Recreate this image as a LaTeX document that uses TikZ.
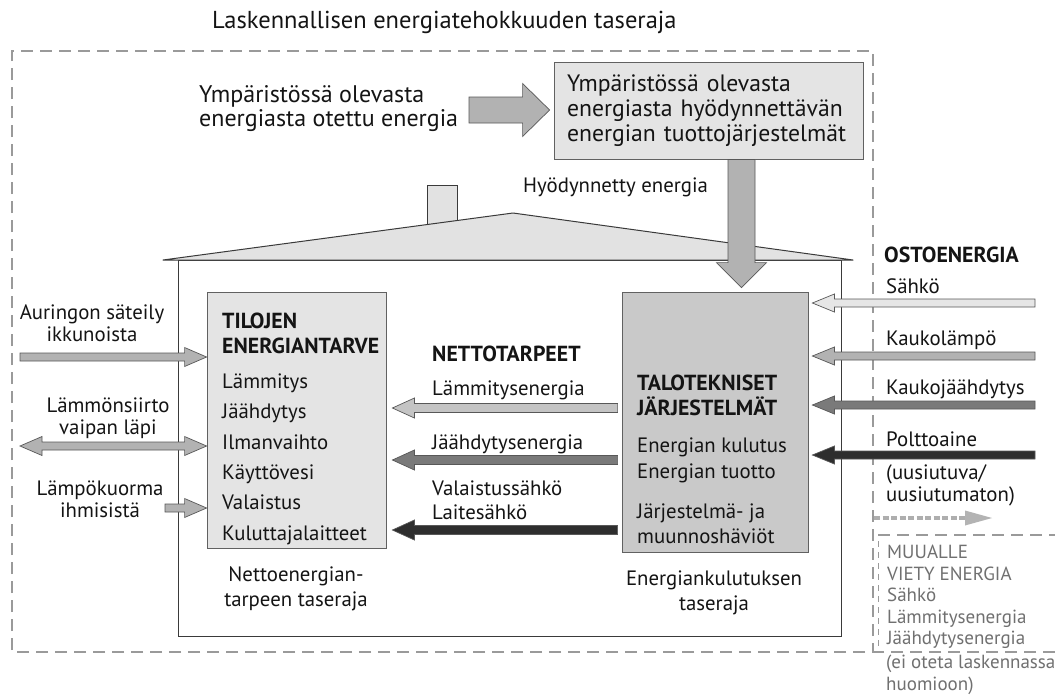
\documentclass[tikz,border=0pt]{standalone}
\usepackage{fontspec}
\setmainfont{PT Sans}
\usetikzlibrary{calc,arrows.meta}
\definecolor{boxlight}{HTML}{E4E4E4}
\definecolor{boxmid}{HTML}{C9C9C9}
\definecolor{rooffill}{HTML}{E2E2E2}
\definecolor{arA}{HTML}{E6E6E6}
\definecolor{arB}{HTML}{B2B2B2}
\definecolor{arC}{HTML}{C4C4C4}
\definecolor{arD}{HTML}{7A7A7A}
\definecolor{arE}{HTML}{2E2E2E}
\definecolor{boundc}{HTML}{9A9A9A}
\definecolor{graytext}{HTML}{707070}
\definecolor{linec}{HTML}{3A3A3A}
\definecolor{txt}{HTML}{141414}
\newcommand\fatarrow[6]{%
  \filldraw[arrowline, fill=#1] let \p1=(#2), \p2=(#3),
    \n1={veclen(\x2-\x1,\y2-\y1)}, \n2={(\x2-\x1)/\n1}, \n3={(\y2-\y1)/\n1} in
    ({\x1-\n3*#4},{\y1+\n2*#4}) --
    ({\x2-\n2*#6-\n3*#4},{\y2-\n3*#6+\n2*#4}) --
    ({\x2-\n2*#6-\n3*#5},{\y2-\n3*#6+\n2*#5}) --
    (\x2,\y2) --
    ({\x2-\n2*#6+\n3*#5},{\y2-\n3*#6-\n2*#5}) --
    ({\x2-\n2*#6+\n3*#4},{\y2-\n3*#6-\n2*#4}) --
    ({\x1+\n3*#4},{\y1-\n2*#4}) -- cycle;}
\newcommand\dfatarrow[6]{%
  \filldraw[arrowline, fill=#1] let \p1=(#2), \p2=(#3),
    \n1={veclen(\x2-\x1,\y2-\y1)}, \n2={(\x2-\x1)/\n1}, \n3={(\y2-\y1)/\n1} in
    (\x1,\y1) --
    ({\x1+\n2*#6-\n3*#5},{\y1+\n3*#6+\n2*#5}) --
    ({\x1+\n2*#6-\n3*#4},{\y1+\n3*#6+\n2*#4}) --
    ({\x2-\n2*#6-\n3*#4},{\y2-\n3*#6+\n2*#4}) --
    ({\x2-\n2*#6-\n3*#5},{\y2-\n3*#6+\n2*#5}) --
    (\x2,\y2) --
    ({\x2-\n2*#6+\n3*#5},{\y2-\n3*#6-\n2*#5}) --
    ({\x2-\n2*#6+\n3*#4},{\y2-\n3*#6-\n2*#4}) --
    ({\x1+\n2*#6+\n3*#4},{\y1+\n3*#6-\n2*#4}) --
    ({\x1+\n2*#6+\n3*#5},{\y1+\n3*#6-\n2*#5}) -- cycle;}
\newcommand\bft[1]{{\fontsize{21.8}{25}\bfseries #1}}
\begin{document}
\begin{tikzpicture}[x=1pt,y=-1pt,
  arrowline/.style={draw=linec!85, line width=0.7pt, line join=miter},
  boundline/.style={draw=boundc, line width=1.3pt, dash pattern=on 12pt off 7pt},
  fineline/.style={draw=boundc, line width=0.8pt, dash pattern=on 6pt off 5pt},
  lbl/.style={inner sep=0pt, text=txt, font=\fontsize{20.8}{22}\selectfont},
  boldlbl/.style={inner sep=0pt, text=txt, font=\fontsize{21.8}{24}\bfseries},
  biglbl/.style={inner sep=0pt, text=txt, font=\fontsize{24}{24}\selectfont},
  graylbl/.style={inner sep=0pt, text=graytext, font=\fontsize{19}{21.5}\selectfont},
  boxnode/.style={draw=linec!80, line width=0.8pt, inner sep=0pt}]
\useasboundingbox (0,0) rectangle (1055,697);
\fill[white] (0,0) rectangle (1055,697);

% balance boundaries
\draw[boundline] (1055,652) -- (12,652) -- (12,51) -- (873,51) -- (873,652);
\draw[boundline] (878,535) -- (1055,535);
\draw[fineline] (878,541) -- (878,650);

% title
\node[inner sep=0pt, text=txt, font=\fontsize{24.5}{26}\selectfont, anchor=west] (title) at (212,22) {Laskennallisen energiatehokkuuden taseraja};

% house
\draw[linec, line width=1pt, fill=white] (178,260) rectangle (841,636);
\draw[linec, line width=0.9pt, fill=rooffill] (427,185) rectangle (457,232);
\filldraw[draw=linec, line width=1pt, fill=rooffill, line join=round] (163,260) -- (513,213) -- (853,260) -- cycle;

% top part
\node[biglbl, align=left, anchor=west] (envtext) at (199,109) {Ympäristössä olevasta\\energiasta otettu energia};
\node[boxnode, fill=boxlight, minimum width=309pt, minimum height=97pt, align=left, text width=283pt,
      text=txt, font=\fontsize{23.7}{25}\selectfont] (envbox) at (708.5,110.5)
  {Ympäristössä olevasta\\energiasta hyödynnettävän\\energian tuottojärjestelmät};
\node[lbl, anchor=west] (hyod) at (523,187) {Hyödynnetty energia};

% inner boxes
\node[boxnode, fill=boxlight, minimum width=179pt, minimum height=256pt] (tilo) at (296.5,420) {};
\node[boxnode, fill=boxmid, minimum width=186pt, minimum height=260pt] (talo) at (715,422) {};

\node[lbl, anchor=north west, align=left, font=\fontsize{20.8}{25}\selectfont] (tilotext) at (222,312.5)
  {\bft{TILOJEN}\\\bft{ENERGIANTARVE}\\[10pt]Lämmitys\\[5.4pt]Jäähdytys\\[5.4pt]Ilmanvaihto\\[5.4pt]Käyttövesi\\[5.4pt]Valaistus\\[5.4pt]Kuluttajalaitteet};
\node[lbl, anchor=north west, align=left, font=\fontsize{20.8}{25.5}\selectfont] (talotext) at (637,374.5)
  {\bft{TALOTEKNISET}\\\bft{JÄRJESTELMÄT}\\[11.5pt]Energian kulutus\\Energian tuotto\\[14.5pt]Järjestelmä- ja\\muunnoshäviöt};

% net needs
\node[boldlbl, anchor=west] (netto) at (432,354) {NETTOTARPEET};
\node[lbl, anchor=west] (lamm) at (432,390) {Lämmitysenergia};
\node[lbl, anchor=west] (jaah) at (432,444) {Jäähdytysenergia};
\node[lbl, anchor=west, align=left, font=\fontsize{20.8}{24}\selectfont] (vala) at (432,500) {Valaistussähkö\\Laitesähkö};

% left labels
\node[lbl, align=center] (aur) at (92,323) {Auringon säteily\\ikkunoista};
\node[lbl, align=center] (lsiirto) at (108,418) {Lämmönsiirto\\vaipan läpi};
\node[lbl, align=center] (lampok) at (100,499) {Lämpökuorma\\ihmisistä};

% bottom labels
\node[lbl, align=center, font=\fontsize{20.8}{25}\selectfont] (nettotase) at (296,589) {Nettoenergian-\\tarpeen taseraja};
\node[lbl, align=center, font=\fontsize{20.8}{25}\selectfont] (kulutase) at (714,593) {Energiankulutuksen\\taseraja};

% purchased energy
\node[boldlbl, anchor=west] (osto) at (884,255) {OSTOENERGIA};
\node[lbl, anchor=west] (sahko) at (886,286) {Sähkö};
\node[lbl, anchor=west] (kaukol) at (886,340) {Kaukolämpö};
\node[lbl, anchor=west] (kaukoj) at (886,389) {Kaukojäähdytys};
\node[lbl, anchor=west] (poltto) at (886,439) {Polttoaine};
\node[lbl, anchor=west, align=left, font=\fontsize{20.8}{22}\selectfont] (uusiu) at (886,485) {(uusiutuva/\\uusiutumaton)};

\node[graylbl, anchor=west, align=left] (muualle) at (887,597)
  {MUUALLE\\VIETY ENERGIA\\Sähkö\\Lämmitysenergia\\Jäähdytysenergia};
\node[graylbl, anchor=west, align=left] (eioteta) at (886,675) {(ei oteta laskennassa\\huomioon)};

% coordinates for free arrow ends
\coordinate (envtail) at (469,110);
\coordinate (usedx) at (741.5,0);
\coordinate (aurE) at (20,357);
\coordinate (lsE) at (20,446);
\coordinate (lkE) at (165,508);
\coordinate (sahE) at (1035,303);
\coordinate (kaulE) at (1035,356);
\coordinate (kaujE) at (1035,405);
\coordinate (polE) at (1035,455);
\coordinate (expS) at (874,518);
\coordinate (expE) at (992,518);

% arrows
\fatarrow{arB}{envtail}{$(envbox.west|-envtail)+(-4,0)$}{13pt}{26.5pt}{27pt}
\fatarrow{arB}{usedx|-envbox.south}{$(usedx|-talo.north)+(0,-4)$}{13.5pt}{25pt}{25pt}

\fatarrow{arB}{aurE}{tilo.west|-aurE}{4pt}{9.5pt}{22pt}
\dfatarrow{arB}{lsE}{tilo.west|-lsE}{4pt}{9.5pt}{22pt}
\fatarrow{arB}{lkE}{tilo.west|-lkE}{4pt}{9.5pt}{22pt}

\fatarrow{arC}{$(talo.west|-0,408)+(-4,0)$}{$(tilo.east|-0,408)+(6,0)$}{4.5pt}{10pt}{22pt}
\fatarrow{arD}{$(talo.west|-0,460)+(-4,0)$}{$(tilo.east|-0,460)+(6,0)$}{4.5pt}{10pt}{22pt}
\fatarrow{arE}{$(talo.west|-0,530)+(-4,0)$}{$(tilo.east|-0,530)+(6,0)$}{4.5pt}{10pt}{22pt}

\fatarrow{arA}{sahE}{$(talo.east|-sahE)+(4,0)$}{4pt}{9pt}{22pt}
\fatarrow{arB}{kaulE}{$(talo.east|-kaulE)+(4,0)$}{4pt}{9pt}{22pt}
\fatarrow{arD}{kaujE}{$(talo.east|-kaujE)+(4,0)$}{4pt}{9pt}{22pt}
\fatarrow{arE}{polE}{$(talo.east|-polE)+(4,0)$}{4pt}{9pt}{22pt}

% exported energy arrow
\draw[draw=boundc!80, line width=4.5pt, dash pattern=on 6pt off 2.5pt] (expS) -- ($(expE)+(-27,0)$);
\fill[boundc!75] ($(expE)+(-27,-7.5)$) -- (expE) -- ($(expE)+(-27,7.5)$) -- cycle;
\end{tikzpicture}
\end{document}
